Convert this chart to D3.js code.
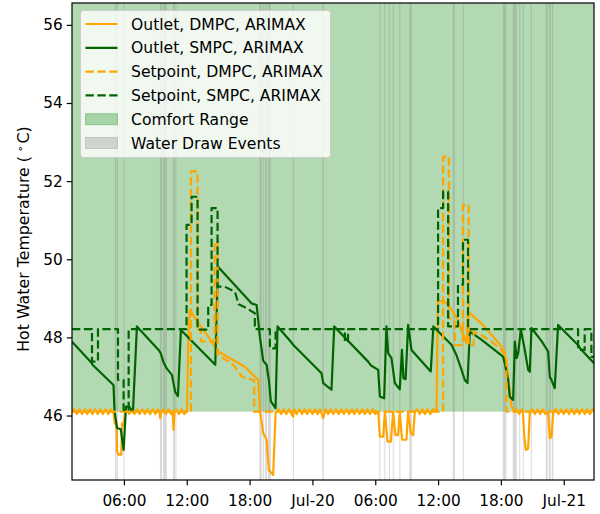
<!DOCTYPE html>
<html>
<head>
<meta charset="utf-8">
<script src="https://cdn.jsdelivr.net/npm/d3@7"></script>
<style>
  body { margin: 0; background: #fff; }
  svg { display: block; font-family: "DejaVu Sans", sans-serif; }
</style>
</head>
<body>
<svg id="chart"></svg>
<script>
// hours are counted from Jul-19 00:00
var hourRange = [1.04, 50.89];
var yTicks = [46, 48, 50, 52, 54, 56];
var yRange = [44.35, 56.56];
var comfortRange = [46.1, 60];

var outletDMPC = [
  [1.04,46.1],[1.25,46.16],[1.5,46.04],[1.75,46.16],[2.0,46.04],[2.25,46.16],[2.5,46.04],[2.75,46.16],[3.0,46.04],[3.25,46.16],
  [3.5,46.04],[3.75,46.16],[4.0,46.04],[4.25,46.16],[4.5,46.04],[4.75,46.16],[5.02,46.06],
  [5.12,45.8],[5.3,45.75],[5.34,45.08],[5.5,45.0],[5.75,45.0],[5.81,45.8],[5.95,45.75],[6.13,46.1],
  [6.25,46.16],[6.5,46.04],[6.75,46.16],[7.0,46.04],[7.25,46.16],[7.5,46.04],[7.75,46.16],[8.0,46.04],[8.25,46.16],[8.5,46.04],
  [8.75,46.16],[9.0,46.04],[9.25,46.16],[9.4,46.08],[9.47,45.93],[9.55,46.08],[9.75,46.16],[10.0,46.04],[10.25,46.16],[10.5,46.04],
  [10.65,46.1],[10.74,45.63],[10.82,46.1],[11.0,46.16],[11.25,46.04],[11.5,46.16],[11.75,46.04],[12.02,46.1],
  [12.15,48.0],[12.3,48.7],[13.13,48.36],[14.05,48.02],[15.0,47.64],[17.55,47.25],[18.82,46.91],
  [18.98,46.15],[19.3,45.55],[19.62,45.38],[19.84,44.61],[20.25,44.48],[20.48,46.06],
  [20.75,46.16],[21.0,46.04],[21.25,46.16],[21.5,46.04],[21.75,46.16],[22.0,46.04],[22.16,45.97],[22.25,46.16],[22.5,46.04],[22.75,46.16],
  [23.0,46.04],[23.25,46.16],[23.5,46.04],[23.75,46.16],[24.0,46.04],[24.25,46.16],[24.5,46.04],[24.75,46.16],[25.03,45.93],[25.25,46.16],
  [25.5,46.04],[25.75,46.16],[26.0,46.04],[26.25,46.16],[26.5,46.04],[26.75,46.16],[27.0,46.04],[27.25,46.16],[27.5,46.04],[27.75,46.16],
  [28.0,46.04],[28.25,46.16],[28.5,46.04],[28.75,46.16],[29.0,46.04],[29.25,46.16],[29.5,46.04],[29.75,46.16],[30.0,46.04],[30.28,46.1],
  [30.44,45.46],[30.76,45.46],[30.92,46.1],[31.17,45.33],[31.49,45.33],[31.71,46.1],[31.93,45.5],[32.18,45.5],[32.34,46.1],
  [32.57,45.38],[32.98,45.38],[33.14,46.1],[33.4,45.55],[33.62,45.5],[33.78,46.1],
  [34.0,46.16],[34.25,46.04],[34.5,46.16],[34.75,46.04],[35.0,46.16],[35.25,46.04],[35.5,46.16],[35.85,46.1],
  [35.98,48.92],[36.62,48.92],[36.96,48.83],[37.9,48.45],[38.2,48.2],[38.71,47.85],[38.86,48.66],
  [40.14,48.36],[42.05,47.77],[42.37,47.6],[42.69,47.0],[43.01,46.23],[43.33,46.1],
  [43.5,46.16],[43.75,46.04],[44.0,46.16],[44.1,46.1],[44.22,45.5],[44.38,45.12],[44.6,45.15],[44.76,46.1],
  [45.0,46.16],[45.25,46.04],[45.5,46.16],[45.75,46.04],[46.0,46.16],[46.25,46.04],[46.5,46.1],[46.67,45.42],[46.83,45.45],[47.0,46.1],
  [47.25,46.16],[47.5,46.04],[47.75,46.16],[48.0,46.04],[48.25,46.16],[48.5,46.04],[48.75,46.16],[49.0,46.04],[49.25,46.16],[49.5,46.04],
  [49.75,46.16],[50.0,46.04],[50.25,46.16],[50.5,46.04],[50.75,46.16],[50.89,46.1]
];

var outletSMPC = [
  [1.04,47.89],[2.9,47.35],[3.0,47.3],[5.0,46.78],[5.1,46.14],[5.34,45.68],[5.7,45.65],[5.97,45.12],[6.2,46.23],[6.5,46.23],
  [6.7,46.15],[6.86,46.1],[7.24,48.28],[9.31,47.68],[9.5,47.6],[9.8,47.35],[10.1,47.2],[10.58,47.04],[10.9,46.6],[11.16,46.5],
  [11.44,48.19],[14.72,47.3],[14.98,49.81],[18.2,48.87],[18.67,48.83],[18.98,48.02],[19.3,47.4],[19.62,47.3],[19.84,46.91],
  [20.03,46.36],[20.48,46.19],[20.67,48.28],[21.9,47.9],[22.2,47.8],[24.87,47.08],[25.03,46.83],[25.82,46.66],[26.08,48.28],
  [29.32,47.38],[29.6,47.28],[30.28,47.17],[30.44,46.49],[30.85,46.44],[31.07,48.28],[31.23,47.6],[31.55,47.47],[31.87,46.83],
  [32.34,46.67],[32.55,47.68],[32.7,46.95],[32.9,46.93],[33.14,48.32],[33.46,47.68],[35.3,47.13],[35.55,48.28],[37.28,47.81],
  [37.75,47.55],[38.2,47.2],[38.55,46.91],[38.81,46.83],[39.03,48.15],[40.1,47.95],[42.21,47.51],[42.37,47.34],[42.69,46.91],
  [42.85,46.48],[43.17,46.4],[43.33,47.89],[43.5,47.47],[43.65,47.6],[43.9,48.2],[44.03,48.03],[44.28,47.68],[44.6,47.17],
  [44.76,47.12],[44.92,48.24],[45.9,47.9],[46.51,47.64],[46.67,46.99],[46.83,46.91],[47.14,46.7],[47.46,48.32],[49.45,47.78],
  [49.55,47.72],[50.89,47.34]
];

var setpointDMPC = [
  [1.04,46.1],[12.4,46.1],[12.4,52.25],[13.03,52.25],[13.03,48.2],[13.35,48.2],[13.35,47.9],[14.66,47.9],[14.66,50.45],
  [14.94,50.45],[14.94,47.55],[16.31,47.34],[17.27,47.0],[17.55,46.96],[18.44,46.91],[18.44,46.1],[36.48,46.1],[36.48,52.63],
  [37.03,52.63],[37.03,48.5],[37.6,48.4],[37.6,47.8],[38.38,47.8],[38.38,51.39],[38.92,51.39],[38.92,47.8],[39.4,47.8],
  [39.4,48.15],[40.14,48.06],[41.1,47.89],[42.05,47.68],[42.37,47.55],[42.53,47.5],[42.53,46.1],[50.89,46.1]
];

var setpointSMPC = [
  [1.04,48.21],[2.95,48.21],[2.95,47.38],[3.52,47.38],[3.52,48.21],[5.43,48.21],[5.43,46.91],[5.97,46.91],[5.97,46.14],
  [6.45,46.14],[6.45,48.21],[11.98,48.21],[11.98,50.88],[12.46,50.88],[12.46,51.6],[13.03,51.6],[13.03,48.2],[14.05,48.2],
  [14.05,48.83],[14.37,48.83],[14.37,51.31],[14.94,51.31],[14.94,49.3],[15.6,49.3],[16.6,49.17],[16.95,48.85],[17.5,48.78],
  [18.5,48.62],[18.5,48.21],[19.94,48.21],[19.94,47.72],[20.48,47.72],[20.48,48.21],[27.1,48.21],[27.1,47.89],[27.4,47.89],
  [27.4,48.21],[36.0,48.21],[36.0,51.31],[36.48,51.31],[36.48,51.73],[36.96,51.73],[36.96,48.28],[37.9,48.28],[37.9,49.35],
  [38.38,49.35],[38.38,50.5],[38.86,50.5],[38.86,48.21],[49.37,48.21],[49.37,47.68],[50.0,47.68],[50.0,48.21],[50.64,48.21],
  [50.64,47.5],[50.89,47.5]
];

var waterDraws = [
  [5.14,5.28],[5.33,5.43],[5.95,6.05],[9.44,9.63],[9.72,10.1],[10.68,10.87],[10.92,11.01],[18.93,19.17],[19.27,19.36],
  [19.46,19.65],[19.75,20.03],[22.13,22.23],[24.95,25.09],[30.39,30.48],[30.87,30.96],[31.3,31.39],[31.68,31.77],[32.3,32.39],
  [33.25,33.49],[37.4,37.6],[38.36,38.45],[42.18,42.51],[43.13,43.52],[43.75,43.85],[44.09,44.18],[44.85,44.95],[46.28,46.47],
  [46.57,46.76],[46.86,47.0]
];

var seriesNames = ["Outlet, DMPC, ARIMAX", "Outlet, SMPC, ARIMAX", "Setpoint, DMPC, ARIMAX", "Setpoint, SMPC, ARIMAX"];
var patchNames = ["Comfort Range", "Water Draw Events"];

var width = 600, height = 514;
var margin = { top: 3, right: 6, bottom: 34, left: 72 };
var tickFont = 15.3, legendFont = 15.6, labelFont = 15.8;
var base = Date.UTC(2020, 6, 19);
function toDate(h) { return new Date(base + h * 3600e3); }

var svg = d3.select('#chart').attr('width', width).attr('height', height);

var x = d3.scaleUtc()
  .domain(hourRange.map(toDate))
  .range([margin.left, width - margin.right]);
var y = d3.scaleLinear()
  .domain(yRange)
  .range([height - margin.bottom, margin.top]);

svg.append('clipPath').attr('id', 'plot')
  .append('rect')
  .attr('x', margin.left).attr('y', margin.top)
  .attr('width', width - margin.left - margin.right)
  .attr('height', height - margin.top - margin.bottom);

var plot = svg.append('g').attr('clip-path', 'url(#plot)');

// comfort band
plot.append('rect')
  .attr('x', margin.left)
  .attr('width', width - margin.left - margin.right)
  .attr('y', y(comfortRange[1]))
  .attr('height', y(comfortRange[0]) - y(comfortRange[1]))
  .attr('fill', 'green').attr('fill-opacity', 0.3);

// water draw events
plot.append('g')
  .selectAll('rect')
  .data(waterDraws)
  .enter()
  .append('rect')
  .attr('x', function (d) { return x(toDate(d[0])); })
  .attr('width', function (d) { return Math.max(1, x(toDate(d[1])) - x(toDate(d[0]))); })
  .attr('y', margin.top)
  .attr('height', height - margin.top - margin.bottom)
  .attr('fill', 'gray').attr('fill-opacity', 0.3);

var line = d3.line()
  .x(function (d) { return x(toDate(d[0])); })
  .y(function (d) { return y(d[1]); });

var styles = [
  { data: outletDMPC, color: 'orange', dash: null },
  { data: outletSMPC, color: 'darkgreen', dash: null },
  { data: setpointDMPC, color: 'orange', dash: '8.3,3.6' },
  { data: setpointSMPC, color: 'darkgreen', dash: '8.3,3.6' }
];

styles.forEach(function (s) {
  plot.append('path')
    .attr('d', line(s.data))
    .attr('fill', 'none')
    .attr('stroke', s.color)
    .attr('stroke-width', 2.2)
    .attr('stroke-linejoin', 'round')
    .attr('stroke-dasharray', s.dash);
});

// axes
var tickFmt = function (d) {
  return d.getUTCHours() === 0 ? d3.utcFormat('%b-%d')(d) : d3.utcFormat('%H:%M')(d);
};
var xAxis = svg.append('g')
  .attr('transform', 'translate(0,' + (height - margin.bottom) + ')')
  .call(d3.axisBottom(x).ticks(d3.utcHour.every(6)).tickFormat(tickFmt).tickSize(5.25).tickPadding(9.5));
var yAxis = svg.append('g')
  .attr('transform', 'translate(' + margin.left + ',0)')
  .call(d3.axisLeft(y).tickValues(yTicks).tickFormat(d3.format('d')).tickSize(5.25).tickPadding(4));

[xAxis, yAxis].forEach(function (a) {
  a.select('.domain').remove();
  a.selectAll('text').attr('font-size', tickFont).attr('font-family', '"DejaVu Sans", sans-serif').attr('fill', '#000');
  a.selectAll('line').attr('stroke', '#000').attr('stroke-width', 1.2);
});

svg.append('rect')
  .attr('x', margin.left).attr('y', margin.top)
  .attr('width', width - margin.left - margin.right)
  .attr('height', height - margin.top - margin.bottom)
  .attr('fill', 'none').attr('stroke', '#000').attr('stroke-width', 1.2);

var ylab = svg.append('text')
  .attr('transform', 'translate(29,239) rotate(-90)')
  .attr('text-anchor', 'middle')
  .attr('font-size', labelFont);
ylab.append('tspan').text('Hot Water Temperature (');
ylab.append('tspan').attr('font-size', 11).attr('dy', -5.5).text(' \u2218\u2009');
ylab.append('tspan').attr('dy', 5.5).text('C)');

// legend
var leg = svg.append('g').attr('transform', 'translate(80.5,10.5)');
leg.append('rect')
  .attr('width', 250).attr('height', 147)
  .attr('rx', 3)
  .attr('fill', '#fff').attr('fill-opacity', 0.8)
  .attr('stroke', '#ccc').attr('stroke-width', 1);

var rowY = function (i) { return 13.5 + i * 23.8; };

styles.forEach(function (s, i) {
  leg.append('line')
    .attr('x1', 5).attr('x2', 37)
    .attr('y1', rowY(i)).attr('y2', rowY(i))
    .attr('stroke', s.color).attr('stroke-width', 2.2)
    .attr('stroke-dasharray', s.dash);
});
var patchFill = ['green', 'gray'];
patchNames.forEach(function (n, i) {
  leg.append('rect')
    .attr('x', 5).attr('y', rowY(i + 4) - 5.5)
    .attr('width', 32).attr('height', 11)
    .attr('fill', patchFill[i]).attr('fill-opacity', 0.3)
    .attr('stroke', patchFill[i]).attr('stroke-opacity', 0.3);
});
leg.selectAll('text.lab')
  .data(seriesNames.concat(patchNames))
  .enter()
  .append('text')
  .attr('class', 'lab')
  .attr('x', 50.5)
  .attr('y', function (d, i) { return rowY(i) + 5.5; })
  .attr('font-size', legendFont)
  .attr('fill', '#000')
  .text(function (d) { return d; });
</script>
</body>
</html>
